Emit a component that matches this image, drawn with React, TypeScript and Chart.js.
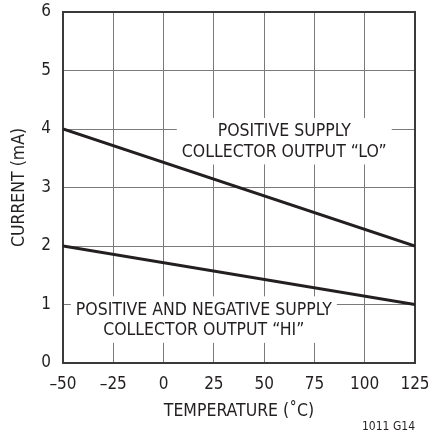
import React, { useEffect, useRef } from "react";
import { Chart, registerables } from "chart.js";

Chart.register(...registerables);

// Temperature axis (°C) and current axis (mA)
const xTicks = [-50, -25, 0, 25, 50, 75, 100, 125];
const yTicks = [0, 1, 2, 3, 4, 5, 6];

// Supply current vs temperature
const temperature = [-50, 125];
const currentLo = [4, 2]; // positive supply, collector output "LO"
const currentHi = [2, 1]; // positive and negative supply, collector output "HI"

const labelLo = ["POSITIVE SUPPLY", "COLLECTOR OUTPUT \u201CLO\u201D"];
const labelHi = ["POSITIVE AND NEGATIVE SUPPLY", "COLLECTOR OUTPUT \u201CHI\u201D"];

const FONT = "'Liberation Sans Narrow', 'DejaVu Sans Condensed', 'Liberation Sans', sans-serif";
const INK = "#231f20";

type Note = { lines: string[]; x: number; y: number };
const notes: Note[] = [
  { lines: labelLo, x: 60, y: 3.95 },
  { lines: labelHi, x: 20, y: 0.9 },
];

const notePlugin = {
  id: "notes",
  beforeDatasetsDraw(chart: any) {
    const { ctx, scales } = chart;
    ctx.save();
    ctx.font = `17.5px ${FONT}`;
    ctx.textAlign = "center";
    ctx.textBaseline = "middle";
    const lineGap = 20.5;
    for (const n of notes) {
      const cx = scales.x.getPixelForValue(n.x);
      const cy = scales.y.getPixelForValue(n.y);
      const w = Math.max(...n.lines.map((l) => ctx.measureText(l).width));
      const top = cy - 14;
      const bottom = cy + lineGap * (n.lines.length - 1) + 12;
      ctx.fillStyle = "#ffffff";
      ctx.fillRect(cx - w / 2 - 5, top, w + 10, bottom - top);
      ctx.fillStyle = INK;
      n.lines.forEach((l, i) => ctx.fillText(l, cx, cy + i * lineGap));
    }
    ctx.restore();
  },
  afterDraw(chart: any) {
    const { ctx } = chart;
    ctx.save();
    ctx.font = `12px ${FONT}`;
    ctx.fillStyle = INK;
    ctx.textAlign = "right";
    ctx.textBaseline = "middle";
    ctx.fillText("1011 G14", 415, 427);
    ctx.restore();
  },
};

export default function App() {
  const ref = useRef<HTMLCanvasElement>(null);

  useEffect(() => {
    const canvas = ref.current;
    if (!canvas) return;
    const chart = new Chart(canvas, {
      type: "line",
      data: {
        datasets: [
          {
            data: temperature.map((t, i) => ({ x: t, y: currentLo[i] })),
            borderColor: INK,
            borderWidth: 3,
            pointRadius: 0,
          },
          {
            data: temperature.map((t, i) => ({ x: t, y: currentHi[i] })),
            borderColor: INK,
            borderWidth: 3,
            pointRadius: 0,
          },
        ],
      },
      options: {
        responsive: false,
        animation: false,
        layout: { padding: { top: 12, right: 13, left: 0, bottom: 0 } },
        plugins: { legend: { display: false }, tooltip: { enabled: false } },
        scales: {
          x: {
            type: "linear",
            min: -50,
            max: 125,
            afterBuildTicks: (s: any) => {
              s.ticks = xTicks.map((v) => ({ value: v }));
            },
            afterFit: (s: any) => {
              s.height = 71;
              s.paddingLeft = 0;
              s.paddingRight = 0;
            },
            ticks: {
              color: INK,
              font: { family: FONT, size: 17 },
              padding: 11,
              maxRotation: 0,
              callback: (v: any) => (Number(v) < 0 ? "\u2013" + Math.abs(Number(v)) : String(v)),
            },
            grid: { color: "#7a7a7a", lineWidth: 1, drawTicks: false },
            border: { color: "#3a3a3a", width: 2 },
            title: {
              display: true,
              text: "TEMPERATURE (\u02DAC)",
              color: INK,
              font: { family: FONT, size: 17.5 },
              padding: { top: 0, bottom: 12 },
            },
          },
          y: {
            type: "linear",
            min: 0,
            max: 6,
            afterBuildTicks: (s: any) => {
              s.ticks = yTicks.map((v) => ({ value: v }));
            },
            afterFit: (s: any) => {
              s.width = 63;
              s.paddingTop = 0;
              s.paddingBottom = 0;
            },
            ticks: {
              color: INK,
              font: { family: FONT, size: 17 },
              padding: 12,
            },
            grid: { color: "#7a7a7a", lineWidth: 1, drawTicks: false },
            border: { color: "#3a3a3a", width: 2 },
            title: {
              display: true,
              text: "CURRENT (mA)",
              color: INK,
              font: { family: FONT, size: 17.5 },
              padding: { top: 9, bottom: 0 },
            },
          },
          x2: {
            type: "linear",
            position: "top",
            display: true,
            min: -50,
            max: 125,
            ticks: { display: false },
            grid: { display: false, drawTicks: false },
            border: { color: "#3a3a3a", width: 2 },
            afterFit: (s: any) => {
              s.height = 0;
            },
          },
          y2: {
            type: "linear",
            position: "right",
            display: true,
            min: 0,
            max: 6,
            ticks: { display: false },
            grid: { display: false, drawTicks: false },
            border: { color: "#3a3a3a", width: 2 },
            afterFit: (s: any) => {
              s.width = 0;
            },
          },
        },
      },
      plugins: [notePlugin],
    });
    return () => chart.destroy();
  }, []);

  return (
    <div style={{ position: "absolute", left: 0, top: 0, width: 428, height: 434, background: "#fff" }}>
      <canvas ref={ref} width={428} height={434} />
    </div>
  );
}
